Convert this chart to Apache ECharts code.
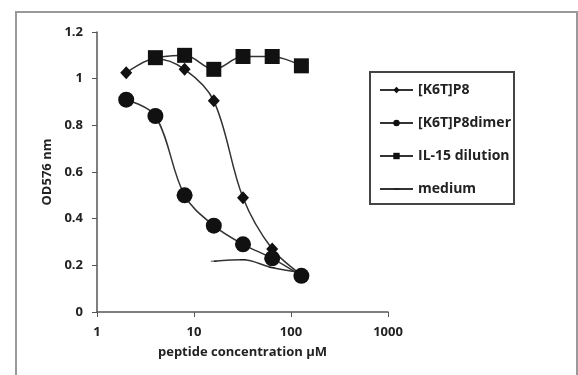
<!DOCTYPE html>
<html>
<head>
<meta charset="utf-8">
<script src="https://cdn.jsdelivr.net/npm/echarts@6/dist/echarts.min.js"></script>
<style>html,body{margin:0;padding:0;background:#fff}#c{width:578px;height:375px}</style>
</head>
<body>
<div id="c"></div>
<script>
const xP8 = [2, 4, 8, 16, 32, 64, 128];
const yP8 = [1.025, 1.085, 1.04, 0.905, 0.49, 0.27, 0.16];
const xDimer = [2, 4, 8, 16, 32, 64, 128];
const yDimer = [0.91, 0.84, 0.50, 0.37, 0.29, 0.23, 0.155];
const xIL15 = [4, 8, 16, 32, 64, 128];
const yIL15 = [1.09, 1.10, 1.04, 1.095, 1.095, 1.055];
const xMedium = [16, 32, 64, 128];
const yMedium = [0.218, 0.224, 0.19, 0.17];
const names = ['[K6T]P8', '[K6T]P8dimer', 'IL-15 dilution', 'medium'];

const pairs = (xs, ys) => xs.map((x, i) => [x, ys[i]]);
const font = 'Open Sans';
const ink = '#222';
const lineStyle = { color: '#333', width: 1.5 };
const dash = 'path://M0,0M0,4.4H10V5.6H0ZM10,10';

const chart = echarts.init(document.getElementById('c'));
chart.setOption({
  animation: false,
  graphic: [{
    type: 'rect', shape: { x: 16, y: 12, width: 561, height: 370 },
    style: { fill: 'none', stroke: '#999', lineWidth: 2 }, silent: true
  }, {
    type: 'rect', shape: { x: 370, y: 72, width: 144, height: 132 },
    style: { fill: 'none', stroke: '#444', lineWidth: 2 }, silent: true
  }],
  grid: { left: 97, top: 32, right: 190, bottom: 63 },
  xAxis: {
    type: 'log', logBase: 10, min: 1, max: 1000,
    name: 'peptide concentration µM', nameLocation: 'middle', nameGap: 34,
    nameTextStyle: { fontFamily: font, fontSize: 13, fontWeight: 'bold', color: ink },
    axisLine: { lineStyle: { color: '#555', width: 1.5 } },
    axisTick: { show: true, inside: false, length: 5, lineStyle: { color: '#555' } },
    minorTick: { show: false },
    splitLine: { show: false },
    axisLabel: { fontFamily: font, fontSize: 13, fontWeight: 'bold', color: ink, margin: 14,
      formatter: v => String(Math.round(v)) }
  },
  yAxis: {
    type: 'value', min: 0, max: 1.2, interval: 0.2,
    name: 'OD576 nm', nameLocation: 'middle', nameGap: 40,
    nameTextStyle: { fontFamily: font, fontSize: 13, fontWeight: 'bold', color: ink },
    axisLine: { show: true, lineStyle: { color: '#555', width: 1.5 } },
    axisTick: { show: true, inside: false, length: 5, lineStyle: { color: '#555' } },
    splitLine: { show: false },
    axisLabel: { fontFamily: font, fontSize: 13, fontWeight: 'bold', color: ink, margin: 14,
      formatter: v => String(Math.round(v * 10) / 10) }
  },
  legend: {
    orient: 'vertical', left: 370, top: 72,
    padding: [11, 5, 7, 9], itemGap: 19, itemWidth: 33, itemHeight: 8,
    borderWidth: 0,
    textStyle: { fontFamily: font, fontSize: 14, fontWeight: 'bold', color: ink },
    data: names
  },
  series: [
    { name: names[0], type: 'line', smooth: 0.35, data: pairs(xP8, yP8),
      symbol: 'diamond', symbolSize: [12, 13], itemStyle: { color: '#111' }, lineStyle, z: 3 },
    { name: names[1], type: 'line', smooth: 0.35, data: pairs(xDimer, yDimer),
      symbol: 'circle', symbolSize: 16, itemStyle: { color: '#111' }, lineStyle, z: 3 },
    { name: names[2], type: 'line', smooth: 0.35, data: pairs(xIL15, yIL15),
      symbol: 'rect', symbolSize: 15, itemStyle: { color: '#111' }, lineStyle, z: 4 },
    { name: names[3], type: 'line', smooth: 0.35, data: pairs(xMedium, yMedium),
      symbol: dash, symbolSize: 6, itemStyle: { color: '#111' }, lineStyle, z: 2 }
  ]
});
</script>
</body>
</html>
